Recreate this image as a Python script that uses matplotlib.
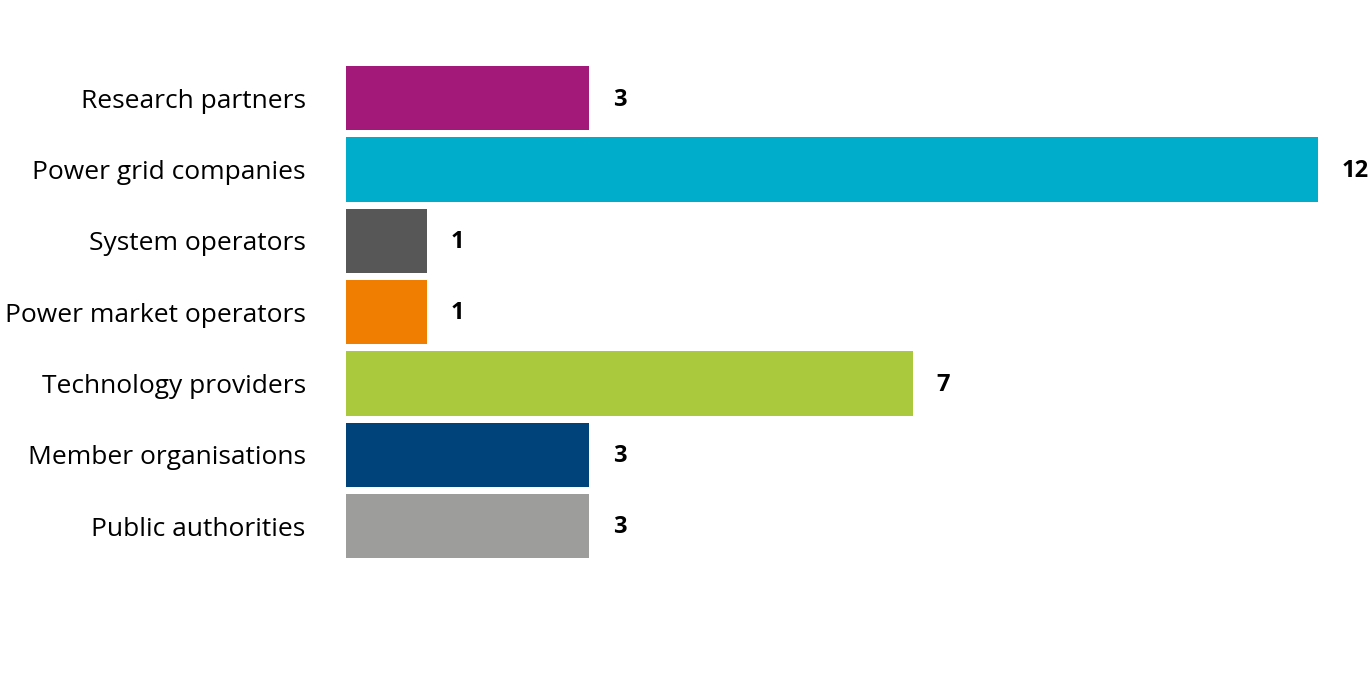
import matplotlib.pyplot as plt

categories = ["Research partners", "Power grid companies", "System operators",
              "Power market operators", "Technology providers",
              "Member organisations", "Public authorities"]
values = [3, 12, 1, 1, 7, 3, 3]
colors = ["#A3197A", "#00ADCA", "#575757", "#F07E00", "#AAC93C", "#00427A", "#9D9D9C"]

plt.rcParams['font.family'] = ['Open Sans', 'DejaVu Sans']

fig = plt.figure(figsize=(13.72, 6.79), dpi=100)
ax = fig.add_axes([0.2522, 0.1727, 0.7084, 0.7353])

y = list(range(len(categories)))
ax.barh(y, values, height=0.9, color=colors)
for yi, v in zip(y, values):
    ax.annotate(str(v), xy=(v, yi), xytext=(17, -1), textcoords="offset points",
                va="center", ha="left", fontsize=17, fontweight="bold",
                color="black", annotation_clip=False)

ax.set_xlim(0, 12)
ax.set_ylim(len(categories) - 0.5, -0.5)
ax.set_yticks(y)
ax.set_yticklabels(categories, fontsize=19, va="center_baseline")
ax.tick_params(axis="y", length=0, pad=29)
ax.set_xticks([])
for s in ax.spines.values():
    s.set_visible(False)

fig.savefig("out.png", dpi=100)
